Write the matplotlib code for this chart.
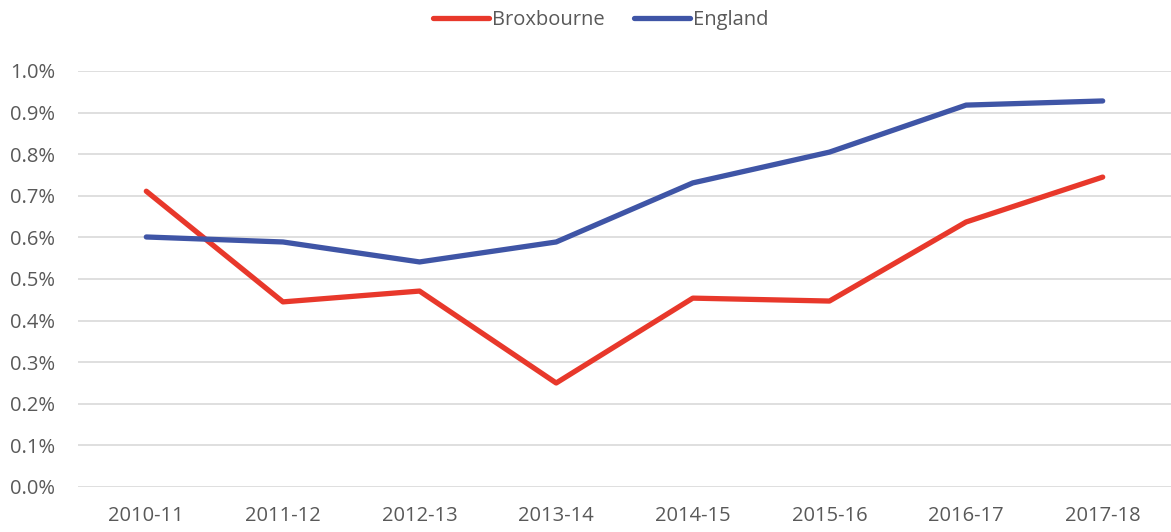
import matplotlib.pyplot as plt
from matplotlib.ticker import FuncFormatter

years = ["2010-11", "2011-12", "2012-13", "2013-14", "2014-15", "2015-16", "2016-17", "2017-18"]
broxbourne = [0.711, 0.445, 0.471, 0.250, 0.454, 0.447, 0.637, 0.745]
england = [0.601, 0.589, 0.541, 0.589, 0.731, 0.805, 0.918, 0.928]

RED = "#E8382B"
BLUE = "#3F55A6"
TEXT = "#595959"

plt.rcParams["font.family"] = ["Open Sans", "DejaVu Sans"]

fig = plt.figure(figsize=(11.71, 5.32), dpi=100)
ax = fig.add_axes([78 / 1171, 45 / 532, 1093 / 1171, 416 / 532])

x = range(len(years))
ax.plot(x, broxbourne, color=RED, lw=3.8, solid_capstyle="round", label="Broxbourne")
ax.plot(x, england, color=BLUE, lw=3.8, solid_capstyle="round", label="England")

ax.set_xlim(-0.5, len(years) - 0.5)
ax.set_ylim(0, 1.0)
ax.set_yticks([i / 10 for i in range(11)])
ax.yaxis.set_major_formatter(FuncFormatter(lambda v, _: f"{v:.1f}%"))
ax.set_xticks(list(x), years)
ax.grid(axis="y", color="#D9D9D9", lw=1.2)
ax.set_axisbelow(True)
for s in ax.spines.values():
    s.set_visible(False)
ax.tick_params(length=0, labelsize=14.5, colors=TEXT)
ax.tick_params(axis="x", pad=14)
ax.tick_params(axis="y", pad=16.5)

leg = fig.legend(loc="upper center", bbox_to_anchor=(0.513, 1.015), ncol=2, frameon=False,
                 fontsize=14.5, handlelength=2.8, columnspacing=1.45, handletextpad=0.15)
for t in leg.get_texts():
    t.set_color(TEXT)

fig.savefig("out.png", dpi=100)
